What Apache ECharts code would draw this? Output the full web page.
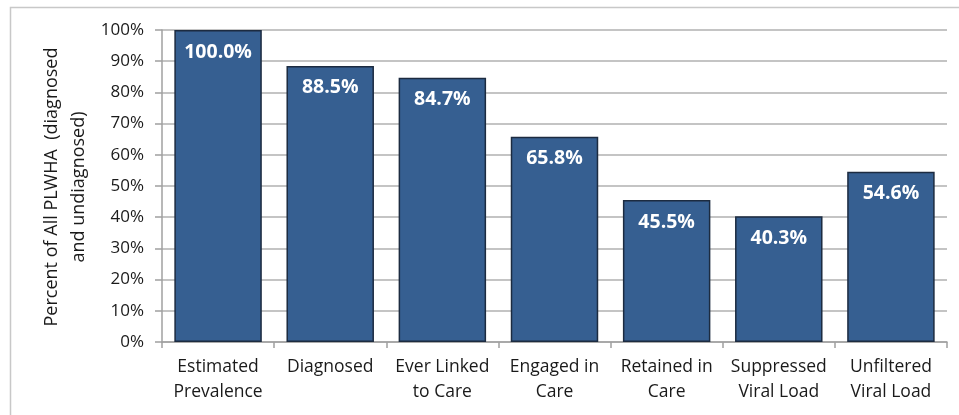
<!DOCTYPE html>
<html><head><meta charset="utf-8">
<script src="https://cdn.jsdelivr.net/npm/echarts@6/dist/echarts.min.js"></script>
<style>html,body{margin:0;padding:0;background:#fff;}#c{width:959px;height:415px;}</style>
</head><body><div id="c"></div>
<script>
const categories = ["Estimated\nPrevalence", "Diagnosed", "Ever Linked\nto Care", "Engaged in\nCare", "Retained in\nCare", "Suppressed\nViral Load", "Unfiltered\nViral Load"];
const values = [100.0, 88.5, 84.7, 65.8, 45.5, 40.3, 54.6];
const yAxisName = "Percent of All PLWHA  (diagnosed\nand undiagnosed)";

const chart = echarts.init(document.getElementById('c'));
const font = "'Open Sans', sans-serif";
chart.setOption({
  animation: false,
  graphic: [
    {type: 'rect', shape: {x: 10.5, y: 7.5, width: 1000, height: 500}, style: {fill: 'none', stroke: '#c8c8c8', lineWidth: 1.5}, z: -1},
    {type: 'text', x: 65, y: 187, rotation: Math.PI / 2,
     style: {text: yAxisName, fill: '#1a1a1a', font: "18px 'Open Sans', sans-serif", align: 'center', verticalAlign: 'middle', lineHeight: 27}}
  ],
  grid: {left: 162, right: 12, top: 30, bottom: 73},
  xAxis: {
    type: 'category', data: categories,
    axisLine: {lineStyle: {color: '#a0a0a0', width: 1.5}},
    axisTick: {show: true, length: 6, lineStyle: {color: '#a0a0a0', width: 1.5}},
    axisLabel: {color: '#1a1a1a', fontSize: 17.5, fontFamily: font, lineHeight: 25, margin: 13, interval: 0}
  },
  yAxis: {
    type: 'value', min: 0, max: 100, interval: 10,
    axisLine: {show: true, lineStyle: {color: '#a0a0a0', width: 1.5}},
    axisTick: {show: true, length: 7, lineStyle: {color: '#a0a0a0', width: 1.5}},
    axisLabel: {color: '#1a1a1a', fontSize: 17, fontFamily: font, formatter: '{value}%', margin: 18},
    splitLine: {lineStyle: {color: '#b0b0b0', width: 1.5}}
  },
  series: [{
    type: 'bar', data: values, barCategoryGap: '22%',
    itemStyle: {color: '#365F91', borderColor: '#1c2b40', borderWidth: 1.5},
    label: {show: true, position: 'insideTop', distance: 12, color: '#fff', fontWeight: 'bold', fontSize: 19.5, fontFamily: font,
      formatter: p => p.value.toFixed(1) + '%'}
  }]
});
</script></body></html>
